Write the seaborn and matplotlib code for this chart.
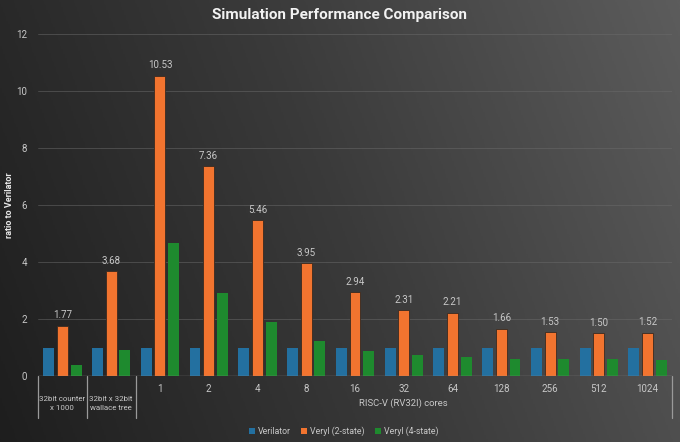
import numpy as np
import pandas as pd
import matplotlib
matplotlib.use('Agg')
import matplotlib.pyplot as plt
from matplotlib.colors import LinearSegmentedColormap
from matplotlib.patches import Patch
import seaborn as sns

# data
categories = ['32bit counter\nx 1000', '32bit x 32bit\nwallace tree',
              '1', '2', '4', '8', '16', '32', '64', '128', '256', '512', '1024']
series_names = ['Verilator', 'Veryl (2-state)', 'Veryl (4-state)']
verilator = [1.0, 1.0, 1.0, 1.0, 1.0, 1.0, 1.0, 1.0, 1.0, 1.0, 1.0, 1.0, 1.0]
veryl_2state = [1.77, 3.68, 10.53, 7.36, 5.46, 3.95, 2.94, 2.31, 2.21, 1.66, 1.53, 1.50, 1.52]
veryl_4state = [0.40, 0.91, 4.66, 2.90, 1.88, 1.24, 0.89, 0.74, 0.68, 0.58, 0.58, 0.61, 0.56]
group_label = 'RISC-V (RV32I) cores'
n_standalone = 2  # first two categories have their own boxed labels

df = pd.DataFrame({
    'category': categories * 3,
    'ratio': verilator + veryl_2state + veryl_4state,
    'series': [s for s in series_names for _ in categories],
})

colors = ['#2370A0', '#F2742F', '#1E8A2E']
txt_color = '#C8C8C8'

sns.set_style('dark')
plt.rcParams['font.family'] = ['Roboto', 'DejaVu Sans']

fig = plt.figure(figsize=(6.8, 4.42), dpi=100)

# gradient background
ax_bg = fig.add_axes([0, 0, 1, 1], zorder=-10)
gx = np.linspace(0, 1, 400)
gy = np.linspace(0, 1, 260)
GX, GY = np.meshgrid(gx, gy)
grad = 0.8 * GX + 0.2 * (1 - GY)
cmap_bg = LinearSegmentedColormap.from_list('bg', ['#1E1E1E', '#3A3A3A', '#5C5C5C'])
ax_bg.imshow(grad, cmap=cmap_bg, aspect='auto', extent=[0, 1, 0, 1], origin='upper')
ax_bg.axis('off')

ax = fig.add_axes([38 / 680, 66 / 442, 634 / 680, 342 / 442])
ax.set_facecolor('none')

sns.barplot(data=df, x='category', y='ratio', hue='series', order=categories,
            hue_order=series_names, palette=colors, width=0.84, gap=0.2,
            ax=ax, legend=False, saturation=1)

for i, cont in enumerate(ax.containers):
    for p in cont:
        p.set_edgecolor('#3a2a20' if i == 1 else 'none')
        p.set_linewidth(0.6 if i == 1 else 0)
        p.set_zorder(3)

ax.bar_label(ax.containers[1], labels=[f'{v:.2f}' for v in veryl_2state],
             padding=4, fontsize=7, color=txt_color)

ax.set_ylim(0, 12)
ax.set_xlim(-0.5, len(categories) - 0.5)
ax.set_yticks(range(0, 13, 2))
ax.tick_params(axis='y', colors=txt_color, labelsize=7, length=0, pad=8)
ax.tick_params(axis='x', colors=txt_color, labelsize=7, length=0, pad=6)
ax.grid(axis='y', color='#6a6a6a', lw=0.6, alpha=0.6, zorder=0)
ax.grid(axis='x', visible=False)
for s in ax.spines.values():
    s.set_visible(False)
ax.axhline(0, color='#9a9a9a', lw=0.9, zorder=4)

ax.set_xticks(range(len(categories)))
ax.set_xticklabels(['' for _ in categories[:n_standalone]] + categories[n_standalone:])
ax.set_xlabel('')
ax.set_ylabel('ratio to Verilator', color='#E8E8E8', fontsize=6.5, fontweight='bold')
ax.yaxis.set_label_coords(-24 / 634, 0.5)

# hierarchical category axis
trans = ax.get_xaxis_transform()
for xline in [-0.5, 0.5, 1.5, len(categories) - 0.5]:
    ax.plot([xline, xline], [0, -0.123], transform=trans, color='#9a9a9a', lw=0.9, clip_on=False)
for i in range(n_standalone):
    ax.text(i, -0.08, categories[i], transform=trans, ha='center', va='center',
            fontsize=5.7, color=txt_color, linespacing=1.5)
ax.text((n_standalone + len(categories) - 1) / 2, -0.08, group_label, transform=trans,
        ha='center', va='center', fontsize=6.8, color=txt_color)

fig.text(339 / 680, 1 - 15 / 442, 'Simulation Performance Comparison', ha='center', va='center',
         fontsize=11, fontweight='bold', color='#F2F2F2')

handles = [Patch(facecolor=c, edgecolor='none') for c in colors]
fig.legend(handles, series_names, loc='center', bbox_to_anchor=(0.505, 11 / 442), ncol=3,
           frameon=False, fontsize=6.3, labelcolor=txt_color, handlelength=0.7, handleheight=0.7,
           handletextpad=0.3, columnspacing=1.2)

fig.savefig('out.png', dpi=100)
